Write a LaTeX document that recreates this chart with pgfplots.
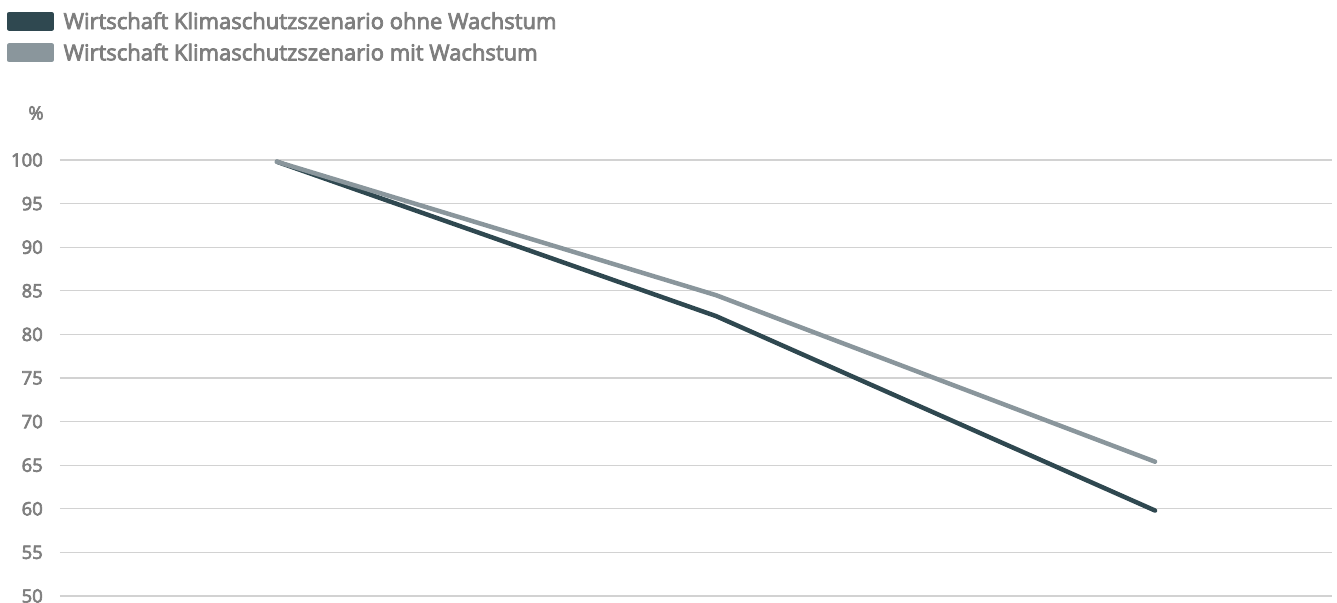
\documentclass[border=0pt]{standalone}
\usepackage{pgfplots}
\pgfplotsset{compat=1.18}
\usepackage{fontspec}
\setmainfont{Open Sans}[RawFeature={embolden=3.5}]
\definecolor{cdark}{HTML}{2F4850}
\definecolor{cgray}{HTML}{8A969C}
\definecolor{ctext}{HTML}{7E7E7E}
\definecolor{cgrid}{HTML}{D2D2D2}
\begin{document}
\begin{tikzpicture}
\useasboundingbox (-60pt,-6pt) rectangle (1277pt,596pt);
\begin{axis}[
  at={(0pt,0pt)}, anchor=south west,
  scale only axis, width=1272pt, height=436pt,
  xmin=-0.494, xmax=2.403, ymin=50, ymax=100,
  axis line style={draw=none},
  xtick=\empty,
  ytick={50,55,...,100},
  ymajorgrids, grid style={color=cgrid, line width=1.2pt},
  major tick length=0pt,
  /pgf/number format/assume math mode=true,
  yticklabel style={anchor=east, inner sep=0pt, xshift=-17pt, font=\fontsize{18.5}{22}\selectfont, text=ctext},
  clip=false,
  legend style={at={(-0.0417,1.344)}, anchor=north west, draw=none, fill=none,
    font=\fontsize{22}{26}\selectfont, text=ctext, inner sep=0pt, row sep=9pt,
    /tikz/every odd column/.style={column sep=8pt}},
  legend cell align=left,
  legend image code/.code={\fill[#1] (0pt,-7.5pt) rectangle (42pt,7.5pt);},
]
\addplot[color=cdark, line width=4.5pt, line cap=round, line join=round] coordinates {(0,99.8) (1,82.1) (2,59.8)};
\addlegendentry{Wirtschaft Klimaschutzszenario ohne Wachstum}
\addplot[color=cgray, line width=4.5pt, line cap=round, line join=round] coordinates {(0,99.8) (1,84.5) (2,65.4)};
\addlegendentry{Wirtschaft Klimaschutzszenario mit Wachstum}
\end{axis}
\node[anchor=center, font=\fontsize{18.5}{22}\selectfont, text=ctext, inner sep=0pt] at (-24pt,483pt) {\%};
\end{tikzpicture}
\end{document}
